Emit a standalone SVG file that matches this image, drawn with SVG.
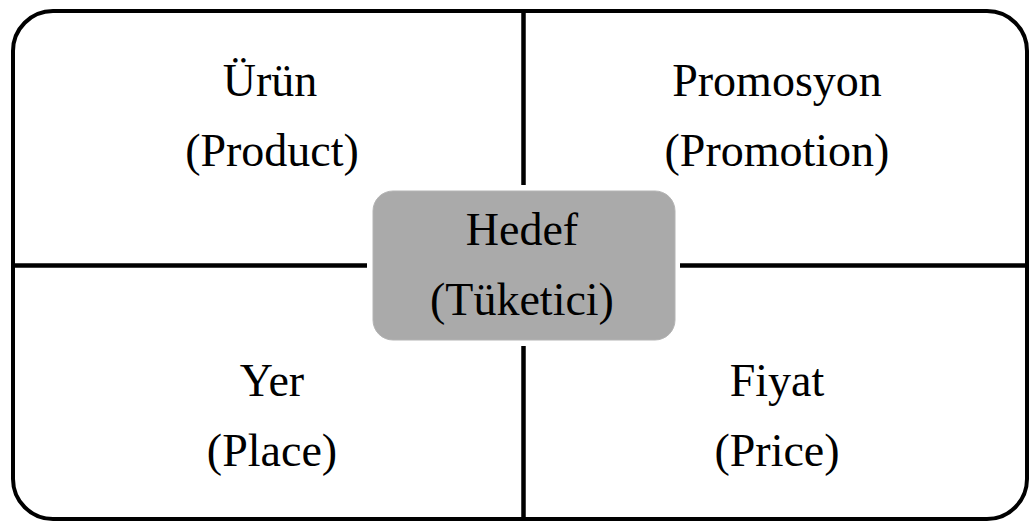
<svg xmlns="http://www.w3.org/2000/svg" width="1030" height="522" viewBox="0 0 1030 522">
  <style>
    .frame { fill: none; stroke: #000; stroke-width: 4; }
    .divider { stroke: #000; stroke-width: 4.5; fill: none; }
    .hub { fill: #aaaaaa; stroke: #b4b4b4; stroke-width: 1; }
    .label { font-family: "Liberation Serif", "Times New Roman", serif; font-size: 46px; fill: #000; text-anchor: middle; }
  </style>

  <!-- outer frame -->
  <rect id="frame" class="frame" x="13" y="11" width="1014" height="508" rx="40" ry="40"/>

  <!-- quadrant dividers -->
  <g id="connectors">
    <line class="divider" x1="523.5" y1="11" x2="523.5" y2="185"/>
    <line class="divider" x1="523.5" y1="346" x2="523.5" y2="519"/>
    <line class="divider" x1="13" y1="265.5" x2="367" y2="265.5"/>
    <line class="divider" x1="680" y1="265.5" x2="1027" y2="265.5"/>
  </g>

  <g id="product">
    <text class="label" x="270" y="96">Ürün</text>
    <text class="label" x="272" y="166">(Product)</text>
  </g>

  <g id="promotion">
    <text class="label" x="777" y="96">Promosyon</text>
    <text class="label" x="777" y="166">(Promotion)</text>
  </g>

  <g id="place">
    <text class="label" x="272" y="396">Yer</text>
    <text class="label" x="272" y="466">(Place)</text>
  </g>

  <g id="price">
    <text class="label" x="777" y="396">Fiyat</text>
    <text class="label" x="777" y="466">(Price)</text>
  </g>

  <g id="target">
    <rect class="hub" x="373" y="191" width="302" height="149" rx="20" ry="20"/>
    <text class="label" x="522" y="245">Hedef</text>
    <text class="label" x="522" y="315">(Tüketici)</text>
  </g>
</svg>
